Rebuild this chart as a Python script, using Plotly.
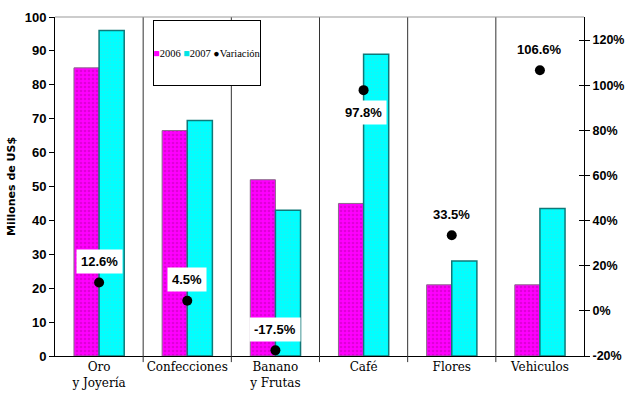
import plotly.graph_objects as go

categories = ["Oro<br>y Joyería", "Confecciones", "Banano<br>y Frutas", "Café", "Flores", "Vehiculos"]
v2006 = [85, 66.5, 52, 45, 21, 21]
v2007 = [96, 69.5, 43, 89, 28, 43.5]
variacion = [12.6, 4.5, -17.5, 97.8, 33.5, 106.6]
label_above = [True, True, True, False, True, True]
left_ticks = list(range(0, 101, 10))
right_ticks = list(range(-20, 121, 20))

xs = list(range(len(categories)))
sans = "Liberation Sans"

fig = go.Figure()
fig.add_trace(go.Bar(
    x=xs, y=v2006, name="2006",
    marker=dict(color="#ff00ff", line=dict(color="#8a6a8a", width=1),
                pattern=dict(shape=".", fgcolor="#c000b0", bgcolor="#ff00ff", size=4, solidity=0.35)),
))
fig.add_trace(go.Bar(
    x=xs, y=v2007, name="2007",
    marker=dict(color="#00ffff", line=dict(color="#107878", width=1.5),
                pattern=dict(shape=".", fgcolor="#40e0e0", bgcolor="#00ffff", size=3, solidity=0.2)),
))
fig.add_trace(go.Scatter(
    x=xs, y=variacion, name="Variación", yaxis="y2", mode="markers",
    marker=dict(color="black", size=10, symbol="circle"),
))
# crossing ticks on right axis
fig.add_trace(go.Scatter(x=[None], y=[None], yaxis="y3", showlegend=False, hoverinfo="skip"))

for i, v in enumerate(variacion):
    fig.add_annotation(
        x=xs[i], y=v, xref="x", yref="y2", text=f"<b>{v}%</b>", showarrow=False,
        yshift=21 if label_above[i] else -22,
        font=dict(family=sans, size=13, color="black"),
        bgcolor="white", borderpad=4,
    )

# category dividers (extend slightly below axis as tick marks)
for i in range(len(categories) - 1):
    fig.add_shape(type="line", xref="x", yref="paper", x0=i + 0.5, x1=i + 0.5,
                  y0=-0.018, y1=1, line=dict(color="#333333", width=1))
fig.add_shape(type="line", xref="paper", yref="paper", x0=0, x1=1, y0=1, y1=1,
              line=dict(color="#999999", width=1))

# legend box
fig.add_annotation(
    xref="paper", yref="paper", x=0.2864, y=0.894, xanchor="center", yanchor="middle",
    text="<span style='color:#ff00ff'>■</span>2006 <span style='color:#00e5e5'>■</span>2007 ●Variación",
    showarrow=False, width=106, height=64, align="center", valign="middle",
    bordercolor="black", borderwidth=1, borderpad=0, bgcolor="white",
    font=dict(family="Liberation Serif", size=10.5, color="black"),
)

fig.update_layout(
    width=626, height=401,
    margin=dict(l=55, r=42, t=17, b=45, autoexpand=False),
    paper_bgcolor="white", plot_bgcolor="white",
    barmode="group", bargap=0.43, bargroupgap=0,
    showlegend=False,
    xaxis=dict(range=[-0.5, len(categories) - 0.5], tickmode="array", tickvals=xs,
               ticktext=categories, showgrid=False, zeroline=False, showline=True,
               linecolor="black", linewidth=1, ticks="", automargin=False,
               tickfont=dict(family="DejaVu Serif", size=12, color="black")),
    yaxis=dict(range=[0, 100], tickmode="array", tickvals=left_ticks,
               ticktext=[f"<b>{t}</b>" for t in left_ticks], automargin=False,
               showgrid=False, zeroline=False,
               showline=True, linecolor="black", linewidth=1, ticks="outside",
               ticklen=5, tickcolor="black",
               tickfont=dict(family=sans, size=13, color="black"),
               title=dict(text="<b>Millones de US$</b>", standoff=6,
                          font=dict(family="DejaVu Sans", size=11, color="black"))),
    yaxis2=dict(range=[-20, 130.2], tickmode="array", tickvals=right_ticks,
                ticktext=[f"<b>{t}%</b>" for t in right_ticks], overlaying="y",
                side="right", showgrid=False, zeroline=False, showline=True, automargin=False,
                linecolor="black", linewidth=1, ticks="outside", ticklen=5, tickcolor="black",
                tickfont=dict(family=sans, size=12.5, color="black")),
    yaxis3=dict(range=[-20, 130.2], tickmode="array", tickvals=right_ticks, overlaying="y",
                side="right", showgrid=False, zeroline=False, showline=False, ticks="inside",
                ticklen=5, tickcolor="black", showticklabels=False, automargin=False),
)

fig.write_html("out.html")
